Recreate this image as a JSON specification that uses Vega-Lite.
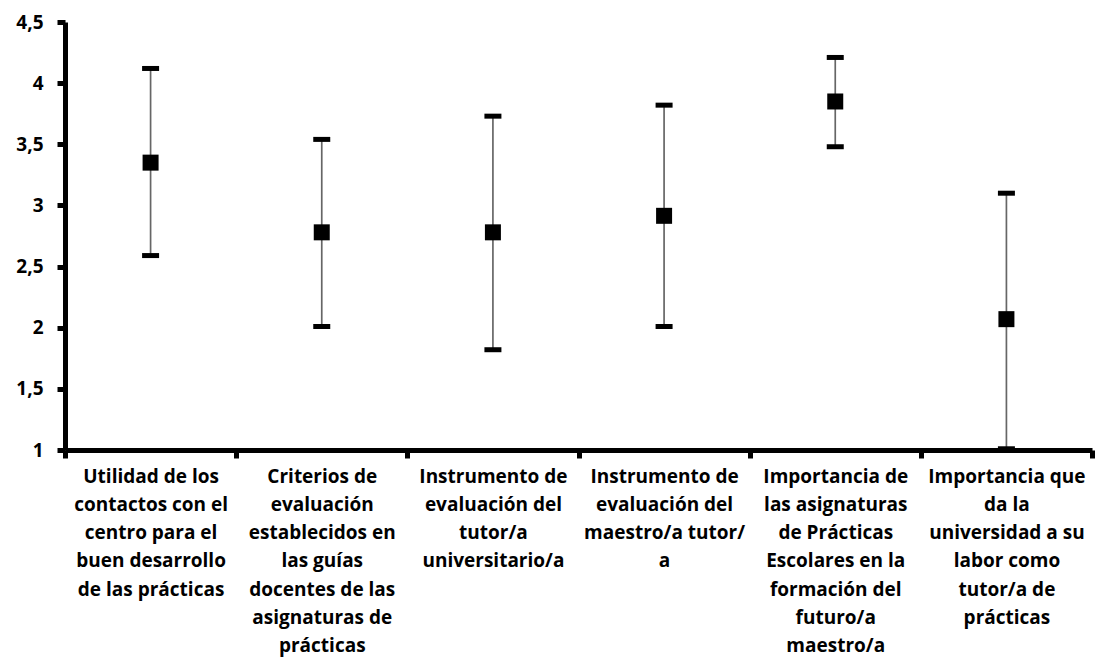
{
  "$schema": "https://vega.github.io/schema/vega-lite/v6.json",
  "autosize": "none",
  "width": 1027,
  "height": 428,
  "padding": {"left": 65, "top": 22, "right": 3, "bottom": 214},
  "background": "white",
  "config": {
    "view": {"stroke": null},
    "font": "Open Sans"
  },
  "data": {
    "values": [
      {"item": "Utilidad de los|contactos con el|centro para el|buen desarrollo|de las prácticas", "mean": 3.35, "low": 2.59, "high": 4.12},
      {"item": "Criterios de|evaluación|establecidos en|las guías|docentes de las|asignaturas de|prácticas", "mean": 2.78, "low": 2.01, "high": 3.54},
      {"item": "Instrumento de|evaluación del|tutor/a|universitario/a", "mean": 2.78, "low": 1.82, "high": 3.73},
      {"item": "Instrumento de|evaluación del|maestro/a tutor/|a", "mean": 2.915, "low": 2.01, "high": 3.82},
      {"item": "Importancia de|las asignaturas|de Prácticas|Escolares en la|formación del|futuro/a|maestro/a", "mean": 3.85, "low": 3.48, "high": 4.21},
      {"item": "Importancia que|da la|universidad a su|labor como|tutor/a de|prácticas", "mean": 2.07, "low": 1.01, "high": 3.1}
    ]
  },
  "encoding": {
    "x": {
      "field": "item",
      "type": "nominal",
      "sort": null,
      "scale": {"paddingInner": 0, "paddingOuter": 0},
      "axis": {
        "title": null,
        "labelAngle": 0,
        "labelExpr": "split(datum.label, '|')",
        "labelLineHeight": 28.3,
        "labelBaseline": "top",
        "labelFont": "Open Sans",
        "labelFontWeight": "bold",
        "labelFontSize": 19,
        "labelColor": "#000000",
        "labelLimit": 0,
        "labelPadding": 9,
        "tickBand": "extent",
        "tickSize": 8,
        "tickWidth": 5,
        "tickColor": "#000000",
        "domainWidth": 5,
        "domainColor": "#000000",
        "grid": false
      }
    }
  },
  "layer": [
    {
      "mark": {"type": "rule", "color": "#666666", "strokeWidth": 1.7},
      "encoding": {
        "y": {
          "field": "low",
          "type": "quantitative",
          "scale": {"domain": [1, 4.5], "nice": false, "zero": false},
          "axis": {
            "title": null,
            "values": [1, 1.5, 2, 2.5, 3, 3.5, 4, 4.5],
            "labelExpr": "replace(format(datum.value, '~g'), '.', ',')",
            "labelFont": "Open Sans",
            "labelFontWeight": "bold",
            "labelFontSize": 19,
            "labelColor": "#000000",
            "labelPadding": 14,
            "tickSize": 8,
            "tickWidth": 5,
            "tickColor": "#000000",
            "domainWidth": 5,
            "domainColor": "#000000",
            "grid": false
          }
        },
        "y2": {"field": "high"}
      }
    },
    {
      "mark": {"type": "tick", "color": "#000000", "opacity": 1, "thickness": 5, "size": 17},
      "encoding": {"y": {"field": "low", "type": "quantitative"}}
    },
    {
      "mark": {"type": "tick", "color": "#000000", "opacity": 1, "thickness": 5, "size": 17},
      "encoding": {"y": {"field": "high", "type": "quantitative"}}
    },
    {
      "mark": {"type": "point", "shape": "square", "filled": true, "color": "#000000", "opacity": 1, "size": 256},
      "encoding": {"y": {"field": "mean", "type": "quantitative"}}
    }
  ]
}
